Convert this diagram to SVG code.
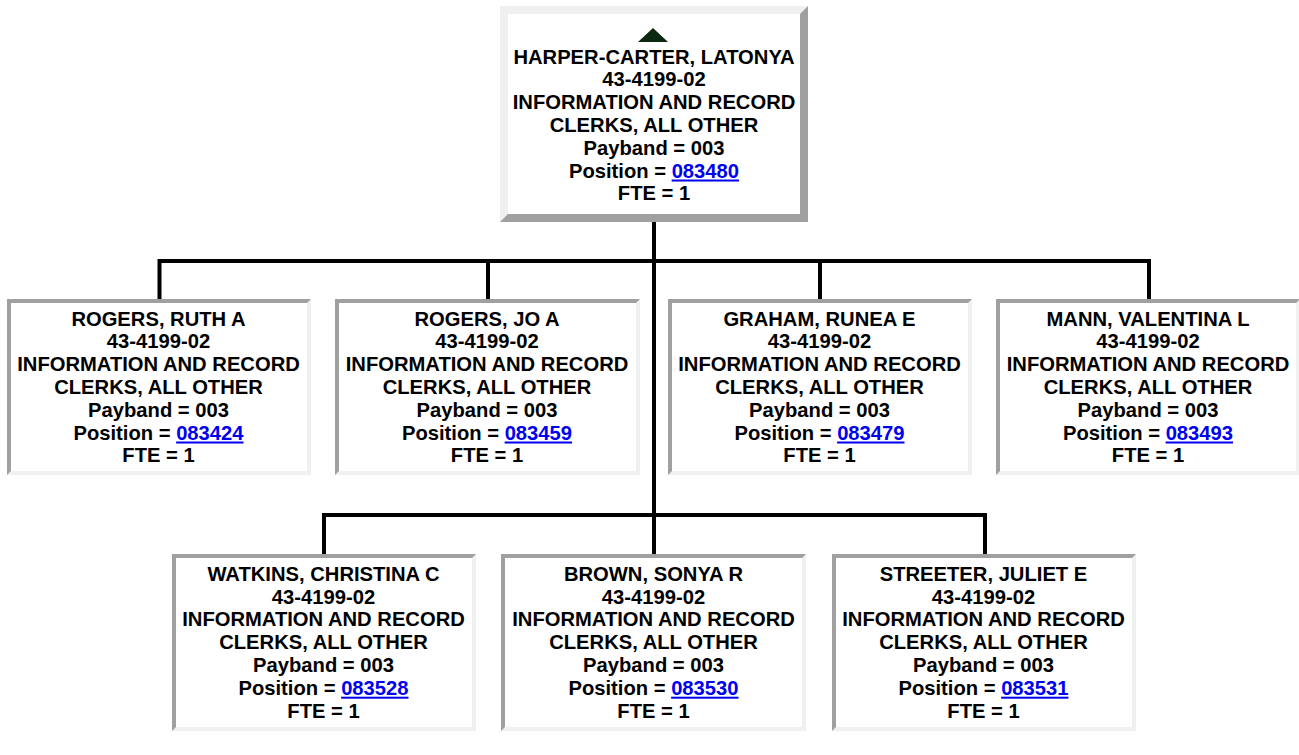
<svg xmlns="http://www.w3.org/2000/svg" width="1299" height="755" viewBox="0 0 1299 755">
<style>
.t{font-family:"Liberation Sans",Arial,sans-serif;font-weight:bold;font-size:20.2px;fill:#000;text-anchor:middle}
.lk{fill:#0000ee;text-decoration:underline}
.lt{fill:#f0f0f0}
.dk{fill:#a0a0a0}
.in{fill:#fff}
.c{stroke:#000;stroke-width:4;fill:none}
</style>
<rect width="1299" height="755" fill="#fff"/>
<g id="connectors">
<path class="c" d="M654 222V515"/>
<path class="c" d="M159.5 261H1149M159.5 259V299M488 259V299M820 259V299M1149 259V299"/>
<path class="c" d="M324 515H985M324 513V554M654 513V554M985 513V554"/>
</g>
<g id="n0">
<rect class="dk" x="500" y="6" width="308" height="216"/>
<polygon class="lt" points="500,6 808,6 800,14 508,14 508,214 500,222"/>
<rect class="in" x="508" y="14" width="292" height="200"/>
<polygon points="653,28 668,42 638,42" fill="#0d2810"/>
<text class="t" x="654" y="63.5">HARPER-CARTER, LATONYA</text>
<text class="t" x="654" y="86.3">43-4199-02</text>
<text class="t" x="654" y="109.1">INFORMATION AND RECORD</text>
<text class="t" x="654" y="131.9">CLERKS, ALL OTHER</text>
<text class="t" x="654" y="154.7">Payband = 003</text>
<text class="t" x="654" y="177.5">Position = <tspan class="lk">083480</tspan></text>
<text class="t" x="654" y="200.3">FTE = 1</text>
</g>
<g id="n1">
<rect class="lt" x="7" y="299" width="304" height="176"/>
<polygon class="dk" points="7,299 311,299 307,303 11,303 11,471 7,475"/>
<rect class="in" x="11" y="303" width="296" height="168"/>
<text class="t" x="158.5" y="325.5">ROGERS, RUTH A</text>
<text class="t" x="158.5" y="348.3">43-4199-02</text>
<text class="t" x="158.5" y="371.1">INFORMATION AND RECORD</text>
<text class="t" x="158.5" y="393.9">CLERKS, ALL OTHER</text>
<text class="t" x="158.5" y="416.7">Payband = 003</text>
<text class="t" x="158.5" y="439.5">Position = <tspan class="lk">083424</tspan></text>
<text class="t" x="158.5" y="462.3">FTE = 1</text>
</g>
<g id="n2">
<rect class="lt" x="335" y="299" width="305" height="176"/>
<polygon class="dk" points="335,299 640,299 636,303 339,303 339,471 335,475"/>
<rect class="in" x="339" y="303" width="297" height="168"/>
<text class="t" x="487" y="325.5">ROGERS, JO A</text>
<text class="t" x="487" y="348.3">43-4199-02</text>
<text class="t" x="487" y="371.1">INFORMATION AND RECORD</text>
<text class="t" x="487" y="393.9">CLERKS, ALL OTHER</text>
<text class="t" x="487" y="416.7">Payband = 003</text>
<text class="t" x="487" y="439.5">Position = <tspan class="lk">083459</tspan></text>
<text class="t" x="487" y="462.3">FTE = 1</text>
</g>
<g id="n3">
<rect class="lt" x="668" y="299" width="304" height="176"/>
<polygon class="dk" points="668,299 972,299 968,303 672,303 672,471 668,475"/>
<rect class="in" x="672" y="303" width="296" height="168"/>
<text class="t" x="819.5" y="325.5">GRAHAM, RUNEA E</text>
<text class="t" x="819.5" y="348.3">43-4199-02</text>
<text class="t" x="819.5" y="371.1">INFORMATION AND RECORD</text>
<text class="t" x="819.5" y="393.9">CLERKS, ALL OTHER</text>
<text class="t" x="819.5" y="416.7">Payband = 003</text>
<text class="t" x="819.5" y="439.5">Position = <tspan class="lk">083479</tspan></text>
<text class="t" x="819.5" y="462.3">FTE = 1</text>
</g>
<g id="n4">
<rect class="lt" x="996" y="299" width="304" height="176"/>
<polygon class="dk" points="996,299 1300,299 1296,303 1000,303 1000,471 996,475"/>
<rect class="in" x="1000" y="303" width="296" height="168"/>
<text class="t" x="1148" y="325.5">MANN, VALENTINA L</text>
<text class="t" x="1148" y="348.3">43-4199-02</text>
<text class="t" x="1148" y="371.1">INFORMATION AND RECORD</text>
<text class="t" x="1148" y="393.9">CLERKS, ALL OTHER</text>
<text class="t" x="1148" y="416.7">Payband = 003</text>
<text class="t" x="1148" y="439.5">Position = <tspan class="lk">083493</tspan></text>
<text class="t" x="1148" y="462.3">FTE = 1</text>
</g>
<g id="n5">
<rect class="lt" x="172" y="554" width="304" height="177"/>
<polygon class="dk" points="172,554 476,554 472,558 176,558 176,727 172,731"/>
<rect class="in" x="176" y="558" width="296" height="169"/>
<text class="t" x="323.5" y="580.7">WATKINS, CHRISTINA C</text>
<text class="t" x="323.5" y="603.5">43-4199-02</text>
<text class="t" x="323.5" y="626.3">INFORMATION AND RECORD</text>
<text class="t" x="323.5" y="649.1">CLERKS, ALL OTHER</text>
<text class="t" x="323.5" y="671.9">Payband = 003</text>
<text class="t" x="323.5" y="694.7">Position = <tspan class="lk">083528</tspan></text>
<text class="t" x="323.5" y="717.5">FTE = 1</text>
</g>
<g id="n6">
<rect class="lt" x="501" y="554" width="305" height="177"/>
<polygon class="dk" points="501,554 806,554 802,558 505,558 505,727 501,731"/>
<rect class="in" x="505" y="558" width="297" height="169"/>
<text class="t" x="653.5" y="580.7">BROWN, SONYA R</text>
<text class="t" x="653.5" y="603.5">43-4199-02</text>
<text class="t" x="653.5" y="626.3">INFORMATION AND RECORD</text>
<text class="t" x="653.5" y="649.1">CLERKS, ALL OTHER</text>
<text class="t" x="653.5" y="671.9">Payband = 003</text>
<text class="t" x="653.5" y="694.7">Position = <tspan class="lk">083530</tspan></text>
<text class="t" x="653.5" y="717.5">FTE = 1</text>
</g>
<g id="n7">
<rect class="lt" x="832" y="554" width="304" height="177"/>
<polygon class="dk" points="832,554 1136,554 1132,558 836,558 836,727 832,731"/>
<rect class="in" x="836" y="558" width="296" height="169"/>
<text class="t" x="983.5" y="580.7">STREETER, JULIET E</text>
<text class="t" x="983.5" y="603.5">43-4199-02</text>
<text class="t" x="983.5" y="626.3">INFORMATION AND RECORD</text>
<text class="t" x="983.5" y="649.1">CLERKS, ALL OTHER</text>
<text class="t" x="983.5" y="671.9">Payband = 003</text>
<text class="t" x="983.5" y="694.7">Position = <tspan class="lk">083531</tspan></text>
<text class="t" x="983.5" y="717.5">FTE = 1</text>
</g>
</svg>
